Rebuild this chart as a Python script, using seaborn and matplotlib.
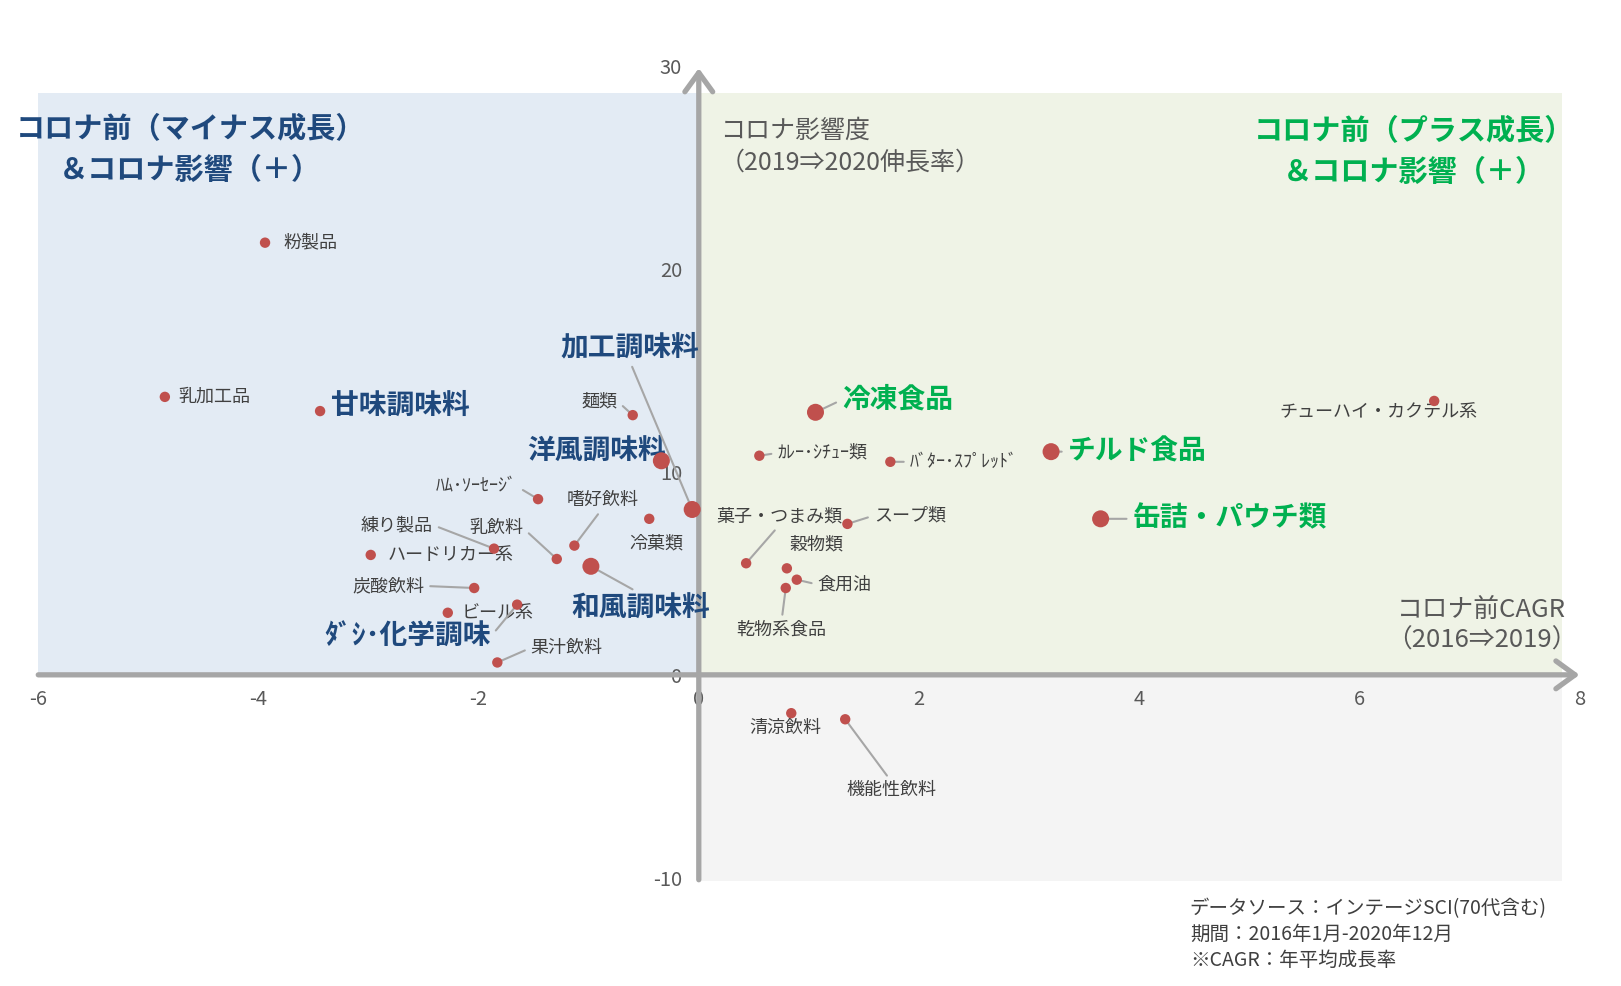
import matplotlib
matplotlib.use('Agg')
import matplotlib.pyplot as plt
import pandas as pd
import seaborn as sns

# Data: pre-corona CAGR (2016->2019) vs corona impact (2019->2020 growth)
names = ['粉製品', '乳加工品', '甘味調味料', '麺類', '洋風調味料', '加工調味料',
         'ﾊﾑ･ｿｰｾｰｼﾞ', '嗜好飲料', '冷菓類', '乳飲料', '練り製品', 'ハードリカー系',
         '和風調味料', '炭酸飲料', 'ビール系', 'ﾀﾞｼ･化学調味', '果汁飲料',
         '冷凍食品', 'ｶﾚｰ･ｼﾁｭｰ類', 'ﾊﾞﾀｰ･ｽﾌﾟﾚｯﾄﾞ', 'チルド食品', 'チューハイ・カクテル系',
         '缶詰・パウチ類', '菓子・つまみ類', 'スープ類', '穀物類', '食用油', '乾物系食品',
         '清涼飲料', '機能性飲料']
cagr = [-3.94, -4.85, -3.44, -0.60, -0.34, -0.06,
        -1.46, -1.13, -0.45, -1.29, -1.86, -2.98,
        -0.98, -2.04, -2.28, -1.65, -1.83,
        1.06, 0.55, 1.74, 3.20, 6.68,
        3.65, 0.43, 1.35, 0.80, 0.89, 0.79,
        0.84, 1.33]
impact = [21.3, 13.7, 13.0, 12.8, 10.55, 8.15,
          8.66, 6.37, 7.69, 5.71, 6.22, 5.91,
          5.35, 4.28, 3.06, 3.46, 0.61,
          12.94, 10.8, 10.5, 11.0, 13.5,
          7.69, 5.5, 7.44, 5.25, 4.69, 4.28,
          -1.89, -2.19]
featured = ['洋風調味料', '加工調味料', '和風調味料', '冷凍食品', 'チルド食品', '缶詰・パウチ類']
blue_labels = ['甘味調味料', '洋風調味料', '加工調味料', '和風調味料', 'ﾀﾞｼ･化学調味']
green_labels = ['冷凍食品', 'チルド食品', '缶詰・パウチ類']
x_ticks = [-6, -4, -2, 0, 2, 4, 6, 8]
y_ticks = [-10, 0, 10, 20, 30]

# label layout: offset in points, alignment, leader line
layout = {
    '粉製品': (13, 0, 'left', False),
    '乳加工品': (10, 0, 'left', False),
    '甘味調味料': (8, 4, 'left', False),
    '麺類': (-11, 10, 'right', True),
    '洋風調味料': (3, 7.5, 'right', False),
    '加工調味料': (-45, 117, 'center', True),
    'ﾊﾑ･ｿｰｾｰｼﾞ': (-15, 9, 'right', True),
    '嗜好飲料': (20, 33, 'center', True),
    '冷菓類': (5, -18, 'center', False),
    '乳飲料': (-24, 22, 'right', True),
    '練り製品': (-44, 17, 'right', True),
    'ハードリカー系': (12, 0, 'left', False),
    '和風調味料': (36, -30, 'center', True),
    '炭酸飲料': (-36, 1.5, 'right', True),
    'ビール系': (10, 0, 'left', False),
    'ﾀﾞｼ･化学調味': (-19, -23, 'right', True),
    '果汁飲料': (24, 10.5, 'left', True),
    '冷凍食品': (19, 9, 'left', True),
    'ｶﾚｰ･ｼﾁｭｰ類': (13, 2, 'left', True),
    'ﾊﾞﾀｰ･ｽﾌﾟﾚｯﾄﾞ': (14, 0, 'left', True),
    'チルド食品': (12, 0, 'left', True),
    'チューハイ・カクテル系': (-40, -8, 'center', False),
    '缶詰・パウチ類': (23, 0, 'left', True),
    '菓子・つまみ類': (24, 34, 'center', True),
    'スープ類': (19, 6, 'left', True),
    '穀物類': (21, 17, 'center', False),
    '食用油': (15, -3.5, 'left', True),
    '乾物系食品': (-3, -30, 'center', True),
    '清涼飲料': (-4.5, -10.5, 'center', False),
    '機能性飲料': (33, -51, 'center', True),
}

df = pd.DataFrame({'name': names, 'cagr': cagr, 'impact': impact})
df['featured'] = df['name'].isin(featured)

sns.set_theme(style='white')
plt.rcParams['font.family'] = ['Noto Sans CJK JP', 'DejaVu Sans']
plt.rcParams['axes.unicode_minus'] = False

AXIS_GREY = '#A6A6A6'
TEXT_GREY = '#595959'
fig = plt.figure(figsize=(16.21, 9.86), dpi=100)
ax = fig.add_axes([0.0236, 0.1098, 0.9508, 0.8231])
ax.set_xlim(x_ticks[0], x_ticks[-1])
ax.set_ylim(y_ticks[0], y_ticks[-1])

# quadrant backgrounds
ax.fill_between([-6, 0], 0, 28.7, color='#E3EBF4', lw=0, zorder=0)
ax.fill_between([0, 7.84], 0, 28.7, color='#EFF3E6', lw=0, zorder=0)
ax.fill_between([0, 7.84], -10.15, 0, color='#F4F4F4', lw=0, zorder=0, clip_on=False)

# axes arrows
arrow = dict(arrowstyle='->,head_length=0.55,head_width=0.4', color=AXIS_GREY,
             lw=3.8, mutation_scale=25, shrinkA=0, shrinkB=0)
ax.annotate('', xy=(8, 0), xytext=(-6, 0), arrowprops=arrow, zorder=2, annotation_clip=False)
ax.annotate('', xy=(0, 29.9), xytext=(0, -10.1), arrowprops=arrow, zorder=2, annotation_clip=False)

for s in ax.spines.values():
    s.set_visible(False)
ax.spines['left'].set_position(('data', 0))
ax.spines['bottom'].set_position(('data', 0))
ax.set_xticks(x_ticks)
ax.set_yticks(y_ticks)
ax.tick_params(length=0, labelsize=14.5, labelcolor=TEXT_GREY)
ax.tick_params(axis='x', pad=10)
ax.tick_params(axis='y', pad=12)

sns.scatterplot(data=df, x='cagr', y='impact', size='featured', sizes={False: 56, True: 150},
                color='#C0504D', edgecolor='none', legend=False, ax=ax, zorder=5, clip_on=False)
ax.set_xlabel('')
ax.set_ylabel('')

for _, row in df.iterrows():
    dx, dy, ha, line = layout[row['name']]
    if row['name'] in blue_labels:
        style = dict(fontsize=20, fontweight='bold', color='#1F497D')
    elif row['name'] in green_labels:
        style = dict(fontsize=20, fontweight='bold', color='#00B050')
    else:
        style = dict(fontsize=13, color='#404040')
    if ha == 'left':
        rel = (0, 0.5)
    elif ha == 'right':
        rel = (1, 0.5)
    else:
        rel = (0.5, 0) if dy > 0 else (0.5, 1)
    props = None
    if line:
        props = dict(arrowstyle='-', color=AXIS_GREY, lw=1.5, shrinkA=2, shrinkB=3, relpos=rel)
    ax.annotate(row['name'], xy=(row['cagr'], row['impact']), xytext=(dx, dy),
                textcoords='offset points', ha=ha, va='center', arrowprops=props,
                zorder=4, annotation_clip=False, **style)

# quadrant titles and axis titles
ax.text(-4.62, 25.9, 'コロナ前（マイナス成長）\n＆コロナ影響（＋）', ha='center', va='center',
        fontsize=21, fontweight='bold', color='#1F497D', linespacing=1.45, multialignment='center')
ax.text(6.5, 25.8, 'コロナ前（プラス成長）\n＆コロナ影響（＋）', ha='center', va='center',
        fontsize=21, fontweight='bold', color='#00B050', linespacing=1.45, multialignment='center')
ax.text(0.19, 26.04, 'コロナ影響度\n（2019⇒2020伸長率）', ha='left', va='center',
        fontsize=18, color=TEXT_GREY, linespacing=1.3)
ax.text(7.11, 2.45, 'コロナ前CAGR\n（2016⇒2019）', ha='center', va='center',
        fontsize=18.5, color=TEXT_GREY, linespacing=1.25, multialignment='center')
ax.text(4.46, -12.79, 'データソース：インテージSCI(70代含む)\n期間：2016年1月-2020年12月\n※CAGR：年平均成長率',
        ha='left', va='center', fontsize=14, color='#3F3F3F', linespacing=1.32, clip_on=False)

fig.savefig('out.png', dpi=100, facecolor='white')
plt.close(fig)
